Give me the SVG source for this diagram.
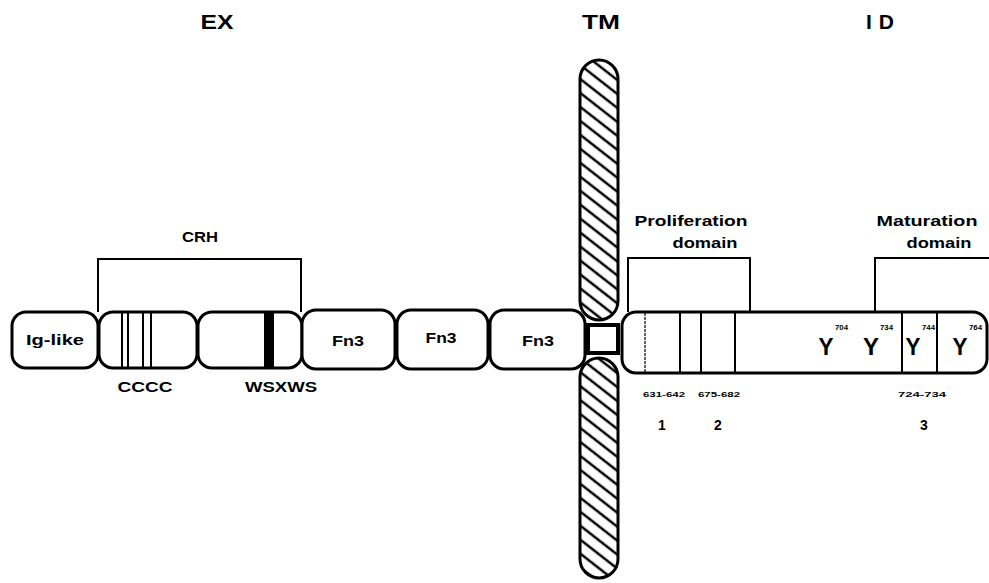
<svg xmlns="http://www.w3.org/2000/svg" width="989" height="583" viewBox="0 0 989 583">
<style>
.dom{fill:#fff;stroke:#000;stroke-width:3}
.ln{stroke:#000;stroke-width:2;fill:none}
.br{stroke:#000;stroke-width:2;fill:none}
.t{font-family:"Liberation Sans",Arial,sans-serif;font-weight:bold;fill:#000}
.hd{font-size:21px;text-anchor:middle}
.lb{font-size:14px;text-anchor:middle}
.sm{font-size:8px;text-anchor:middle}
.y{font-size:24px;text-anchor:middle}
.sup{font-size:7px;text-anchor:start}
</style>
<defs>
<pattern id="hatch" patternUnits="userSpaceOnUse" width="12" height="11" patternTransform="rotate(38)">
<rect width="12" height="11" fill="#fff"/>
<line x1="0" y1="2" x2="12" y2="2" stroke="#000" stroke-width="2.5"/>
</pattern>
</defs>
<rect width="989" height="583" fill="#fff"/>

<g id="headers">
<text class="t hd" x="217" y="29" textLength="33" lengthAdjust="spacingAndGlyphs">EX</text>
<text class="t hd" x="601" y="29" textLength="38" lengthAdjust="spacingAndGlyphs">TM</text>
<text class="t hd" x="880" y="29" textLength="28" lengthAdjust="spacing">ID</text>
</g>

<g id="connectors">
<path class="br" d="M98,312 V259 H301 V312"/>
<path class="br" d="M628,312 V258 H750 V312"/>
<path class="br" d="M875,312 V258 H989"/>
</g>

<g id="membrane">
<rect x="580" y="60" width="38" height="260" rx="19" fill="url(#hatch)" stroke="#000" stroke-width="3"/>
<rect x="580" y="358" width="38" height="220" rx="19" fill="url(#hatch)" stroke="#000" stroke-width="3"/>
<rect x="588" y="325" width="30" height="28" fill="#fff" stroke="#000" stroke-width="4"/>
</g>

<g id="ig-like">
<rect class="dom" x="12" y="312" width="86" height="56" rx="14"/>
<text class="t lb" x="55" y="345" textLength="58" lengthAdjust="spacingAndGlyphs">Ig-like</text>
</g>

<g id="crh-label">
<text class="t lb" x="200" y="242" textLength="36" lengthAdjust="spacingAndGlyphs">CRH</text>
</g>

<g id="crh1">
<rect class="dom" x="99" y="312" width="98" height="56" rx="14"/>
<line class="ln" x1="122" y1="313" x2="122" y2="367"/>
<line class="ln" x1="128" y1="313" x2="128" y2="367"/>
<line class="ln" x1="143" y1="313" x2="143" y2="367"/>
<line class="ln" x1="151" y1="313" x2="151" y2="367"/>
<text class="t lb" x="145" y="392" textLength="55" lengthAdjust="spacingAndGlyphs">CCCC</text>
</g>

<g id="crh2">
<rect class="dom" x="198" y="312" width="104" height="56" rx="14"/>
<rect x="264" y="313" width="10" height="54" fill="#000"/>
<text class="t lb" x="281" y="392" textLength="72" lengthAdjust="spacingAndGlyphs">WSXWS</text>
</g>

<g id="fn3-1">
<rect class="dom" x="302" y="310" width="93" height="59" rx="14"/>
<text class="t lb" x="348" y="346" textLength="32" lengthAdjust="spacingAndGlyphs">Fn3</text>
</g>
<g id="fn3-2">
<rect class="dom" x="397" y="310" width="91" height="59" rx="14"/>
<text class="t lb" x="441" y="343" textLength="31" lengthAdjust="spacingAndGlyphs">Fn3</text>
</g>
<g id="fn3-3">
<rect class="dom" x="490" y="310" width="95" height="59" rx="14"/>
<text class="t lb" x="538" y="346" textLength="32" lengthAdjust="spacingAndGlyphs">Fn3</text>
</g>

<g id="intracellular">
<rect class="dom" x="622" y="312" width="365" height="61" rx="14"/>
<line x1="645" y1="313" x2="645" y2="372" stroke="#000" stroke-width="1.2" stroke-dasharray="3,1"/>
<line class="ln" x1="680" y1="313" x2="680" y2="372"/>
<line class="ln" x1="701" y1="313" x2="701" y2="372"/>
<line class="ln" x1="735" y1="313" x2="735" y2="372"/>
<line class="ln" x1="902" y1="313" x2="902" y2="372" stroke-width="3"/>
<line class="ln" x1="937" y1="313" x2="937" y2="372" stroke-width="3"/>
<text class="t y" x="826" y="355" textLength="15" lengthAdjust="spacingAndGlyphs">Y</text>
<text class="t sup" x="835" y="330" textLength="13" lengthAdjust="spacingAndGlyphs">704</text>
<text class="t y" x="871" y="355" textLength="16" lengthAdjust="spacingAndGlyphs">Y</text>
<text class="t sup" x="880" y="330" textLength="13" lengthAdjust="spacingAndGlyphs">734</text>
<text class="t y" x="913" y="355" textLength="15" lengthAdjust="spacingAndGlyphs">Y</text>
<text class="t sup" x="922" y="330" textLength="13" lengthAdjust="spacingAndGlyphs">744</text>
<text class="t y" x="960" y="355" textLength="15" lengthAdjust="spacingAndGlyphs">Y</text>
<text class="t sup" x="969" y="330" textLength="13" lengthAdjust="spacingAndGlyphs">764</text>
</g>

<g id="proliferation-domain">
<text class="t lb" x="691" y="226" textLength="113" lengthAdjust="spacingAndGlyphs">Proliferation</text>
<text class="t lb" x="705" y="248" textLength="65" lengthAdjust="spacingAndGlyphs">domain</text>
</g>
<g id="maturation-domain">
<text class="t lb" x="927" y="226" textLength="101" lengthAdjust="spacingAndGlyphs">Maturation</text>
<text class="t lb" x="939" y="248" textLength="65" lengthAdjust="spacingAndGlyphs">domain</text>
</g>

<g id="box1">
<text class="t sm" x="664" y="397" textLength="42" lengthAdjust="spacingAndGlyphs">631-642</text>
<text class="t lb" x="662" y="430">1</text>
</g>
<g id="box2">
<text class="t sm" x="719" y="397" textLength="42" lengthAdjust="spacingAndGlyphs">675-682</text>
<text class="t lb" x="718" y="430">2</text>
</g>
<g id="box3">
<text class="t sm" x="922" y="397" textLength="48" lengthAdjust="spacingAndGlyphs">724-734</text>
<text class="t lb" x="924" y="430">3</text>
</g>
</svg>
